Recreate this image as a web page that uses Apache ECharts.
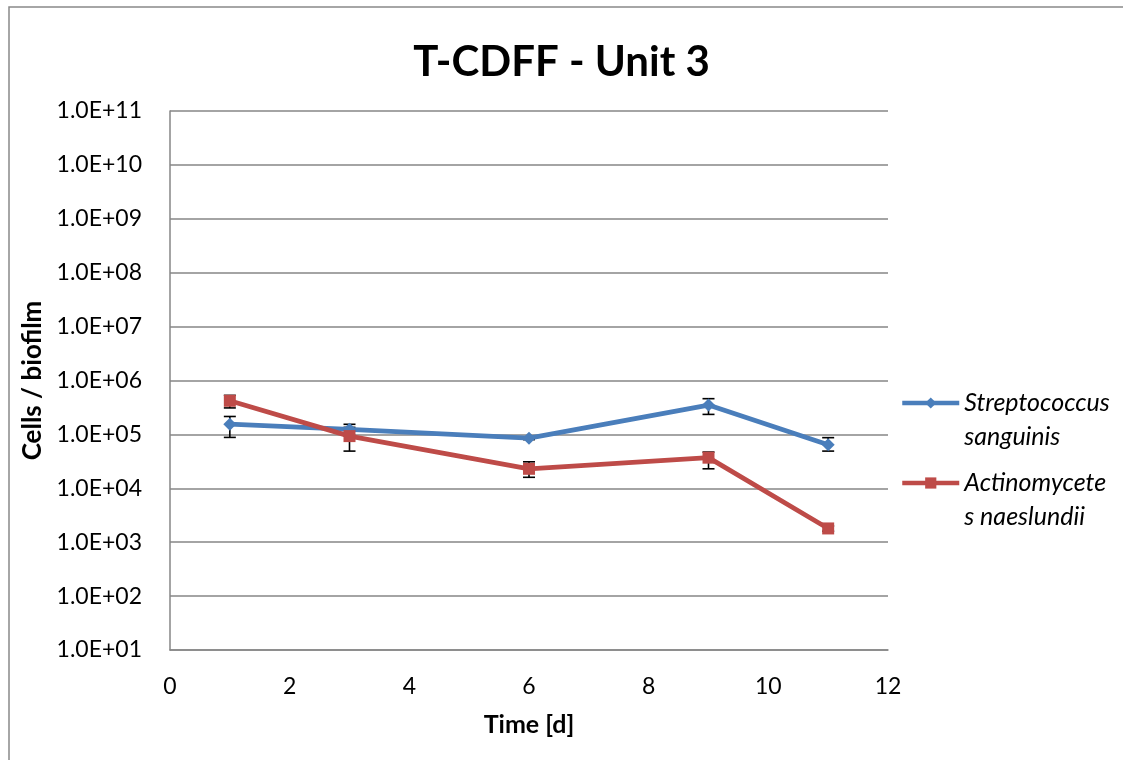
<!DOCTYPE html>
<html><head><meta charset="utf-8">
<script src="https://cdn.jsdelivr.net/npm/echarts@6/dist/echarts.min.js"></script>
<style>html,body{margin:0;padding:0;background:#fff}#c{width:1123px;height:760px}</style>
</head><body><div id="c"></div>
<script>
const titleText = "T-CDFF - Unit 3";
const xName = "Time [d]";
const yName = "Cells / biofilm";
const days = [1, 3, 6, 9, 11];
const strepName = "Streptococcus sanguinis";
const strepValues = [1.55e5, 1.24e5, 8.5e4, 3.5e5, 6.4e4];
const strepLow = [8.8e4, 9.5e4, 8.0e4, 2.35e5, 4.9e4];
const strepHigh = [2.15e5, 1.54e5, 9.0e4, 4.6e5, 8.7e4];
const actName = "Actinomycetes naeslundii";
const actValues = [4.2e5, 9.3e4, 2.3e4, 3.7e4, 1.8e3];
const actLow = [3.1e5, 4.9e4, 1.6e4, 2.3e4, 1.6e3];
const actHigh = [5.3e5, 1.35e5, 3.1e4, 4.7e4, 2.0e3];
const legendLabels = {};
legendLabels[strepName] = "\u00a0\nStreptococcus\nsanguinis";
legendLabels[actName] = "\u00a0\nActinomycete\ns naeslundii";

const FONT = "Lato";
const blue = "#4A7EBB", red = "#BE4B48";

function errSeries(name, lows, highs) {
  return {
    type: 'custom', name: name + ' err', z: 1, silent: true,
    data: days.map((d, i) => [d, lows[i], highs[i]]),
    encode: {x: 0, y: [1, 2]},
    renderItem: function (params, api) {
      const lo = api.coord([api.value(0), api.value(1)]);
      const hi = api.coord([api.value(0), api.value(2)]);
      const w = 6;
      const st = {stroke: '#000', lineWidth: 1.6};
      return {type: 'group', children: [
        {type: 'line', shape: {x1: lo[0], y1: lo[1], x2: hi[0], y2: hi[1]}, style: st},
        {type: 'line', shape: {x1: lo[0]-w, y1: lo[1], x2: lo[0]+w, y2: lo[1]}, style: st},
        {type: 'line', shape: {x1: hi[0]-w, y1: hi[1], x2: hi[0]+w, y2: hi[1]}, style: st}
      ]};
    }
  };
}

const chart = echarts.init(document.getElementById('c'), null, {renderer: 'canvas'});
const legendText = {fontFamily: FONT, fontSize: 25, fontStyle: 'italic', color: '#000', lineHeight: 34};
chart.setOption({
  animation: false,
  backgroundColor: '#fff',
  graphic: [{type: 'rect', shape: {x: 9, y: 7, width: 1200, height: 800}, style: {fill: 'none', stroke: '#898989', lineWidth: 1.5}}],
  title: {text: titleText, left: 'center', top: 36, textStyle: {fontFamily: FONT, fontSize: 42, fontWeight: 'bold', color: '#000'}},
  grid: {left: 170, right: 235, top: 111, bottom: 110},
  legend: [
    {data: [strepName], orient: 'vertical', left: 895, top: 347, itemWidth: 57, itemHeight: 14, itemGap: 4,
     lineStyle: {width: 4.5}, formatter: n => legendLabels[n], textStyle: legendText},
    {data: [actName], orient: 'vertical', left: 895, top: 427, itemWidth: 57, itemHeight: 14, itemGap: 4,
     lineStyle: {width: 4.5}, formatter: n => legendLabels[n], textStyle: legendText}
  ],
  xAxis: {type: 'value', min: 0, max: 12, interval: 2, name: xName, nameLocation: 'middle', nameGap: 62,
    nameTextStyle: {fontFamily: FONT, fontSize: 25, fontWeight: 'bold', color: '#000'},
    axisLine: {lineStyle: {color: '#868686', width: 1.5}}, axisTick: {show: false},
    axisLabel: {fontFamily: FONT, fontSize: 23, color: '#000', margin: 25},
    splitLine: {show: false}},
  yAxis: {type: 'log', logBase: 10, min: 10, max: 1e11, interval: 1, name: yName, nameLocation: 'middle', nameGap: 124,
    nameTextStyle: {fontFamily: FONT, fontSize: 26, fontWeight: 'bold', color: '#000'},
    axisLine: {show: true, lineStyle: {color: '#868686', width: 1.5}}, axisTick: {show: false},
    axisLabel: {fontFamily: FONT, fontSize: 23, color: '#000', margin: 28, showMinLabel: true, showMaxLabel: true,
      formatter: v => '1.0E+' + String(Math.round(Math.log10(v))).padStart(2, '0')},
    splitLine: {lineStyle: {color: '#868686', width: 1.5}}},
  series: [
    errSeries(strepName, strepLow, strepHigh),
    errSeries(actName, actLow, actHigh),
    {name: strepName, type: 'line', z: 3, data: days.map((d, i) => [d, strepValues[i]]),
     symbol: 'diamond', symbolSize: 13, color: blue, lineStyle: {width: 4.8, color: blue}, itemStyle: {color: blue}},
    {name: actName, type: 'line', z: 3, data: days.map((d, i) => [d, actValues[i]]),
     symbol: 'rect', symbolSize: 12, color: red, lineStyle: {width: 4.8, color: red}, itemStyle: {color: red}}
  ]
});
</script></body></html>
